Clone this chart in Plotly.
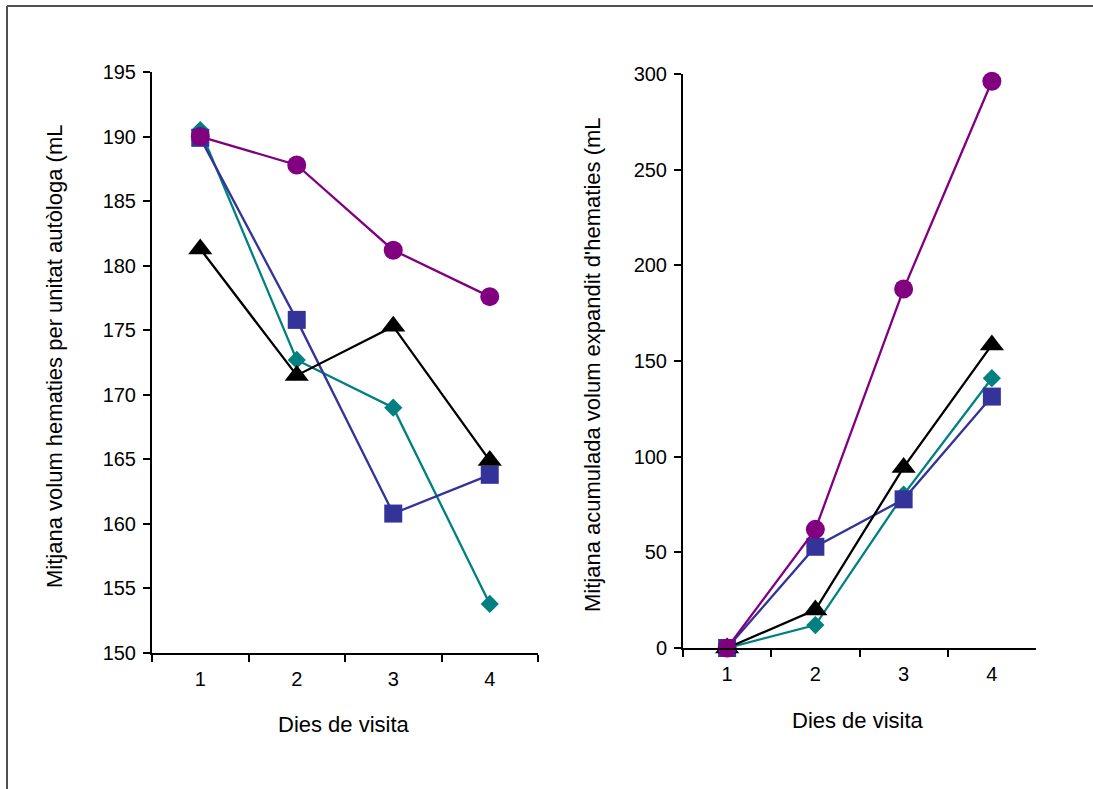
import plotly.graph_objects as go

# Visit days (categorical x)
dies = ["1", "2", "3", "4"]

# Left panel: mean red-cell volume per autologous unit (mL)
vol_cercle = [190.0, 187.8, 181.2, 177.6]
vol_quadrat = [189.9, 175.8, 160.8, 163.8]
vol_rombe = [190.5, 172.7, 169.0, 153.8]
vol_triangle = [181.3, 171.5, 175.3, 164.9]

# Right panel: cumulative mean expanded red-cell volume (mL)
acum_cercle = [0, 62.0, 187.6, 296.2]
acum_quadrat = [0, 52.9, 77.7, 131.4]
acum_rombe = [0, 12.0, 80.2, 141.0]
acum_triangle = [0, 19.9, 94.4, 158.4]

W, H = 1093, 789
FONT = "Liberation Sans, Arial, sans-serif"

# series style: (colour, marker symbol, marker size); drawn in this order
estils = {
    "rombe": ("#008080", "diamond", 14),
    "quadrat": ("#333399", "square", 18),
    "triangle": ("#000000", "triangle-up", 21),
    "cercle": ("#800080", "circle", 19),
}

esquerra = {"rombe": vol_rombe, "quadrat": vol_quadrat,
            "triangle": vol_triangle, "cercle": vol_cercle}
dreta = {"rombe": acum_rombe, "quadrat": acum_quadrat,
         "triangle": acum_triangle, "cercle": acum_cercle}

fig = go.Figure()

for nom, (color, simbol, mida) in estils.items():
    fig.add_trace(go.Scatter(
        x=dies, y=esquerra[nom], mode="lines+markers",
        line=dict(color=color, width=2.3),
        marker=dict(symbol=simbol, size=mida, color=color, line=dict(width=0)),
        xaxis="x", yaxis="y", showlegend=False, cliponaxis=False,
    ))
    fig.add_trace(go.Scatter(
        x=dies, y=dreta[nom], mode="lines+markers",
        line=dict(color=color, width=2.3),
        marker=dict(symbol=simbol, size=mida, color=color, line=dict(width=0)),
        xaxis="x2", yaxis="y2", showlegend=False, cliponaxis=False,
    ))


def px_x(v):
    return v / W


def px_y(v):
    return 1 - v / H


eix_x = dict(
    type="category", tickson="boundaries", range=[-0.5, 3.5],
    showline=True, linecolor="black", linewidth=2,
    ticks="outside", ticklen=7, tickwidth=2, tickcolor="black",
    ticklabelstandoff=7,
    showgrid=False, zeroline=False,
    tickfont=dict(family=FONT, size=20, color="black"),
)
eix_y = dict(
    showline=True, linecolor="black", linewidth=2,
    ticks="outside", ticklen=7, tickwidth=2, tickcolor="black",
    ticklabelstandoff=3,
    showgrid=False, zeroline=False,
    tickfont=dict(family=FONT, size=20, color="black"),
)

fig.update_layout(
    width=W, height=H,
    margin=dict(l=0, r=0, t=0, b=0, autoexpand=False),
    paper_bgcolor="white", plot_bgcolor="white",
    xaxis=dict(eix_x, domain=[px_x(152), px_x(538)], anchor="y"),
    yaxis=dict(eix_y, domain=[px_y(653), px_y(72)], anchor="x",
               range=[150, 195], tickvals=[150, 155, 160, 165, 170, 175, 180, 185, 190, 195]),
    xaxis2=dict(eix_x, domain=[px_x(683), px_x(1036)], anchor="y2"),
    yaxis2=dict(eix_y, domain=[px_y(648), px_y(74)], anchor="x2",
                range=[0, 300], tickvals=[0, 50, 100, 150, 200, 250, 300]),
)

titol = dict(family=FONT, size=22, color="black")
fig.add_annotation(text="Dies de visita", x=px_x(344), y=px_y(724), xref="paper", yref="paper",
                   showarrow=False, font=titol, xanchor="center", yanchor="middle")
fig.add_annotation(text="Dies de visita", x=px_x(858), y=px_y(720), xref="paper", yref="paper",
                   showarrow=False, font=titol, xanchor="center", yanchor="middle")
fig.add_annotation(text="Mitjana volum hematies per unitat autòloga (mL",
                   x=px_x(54), y=px_y(357), xref="paper", yref="paper", textangle=-90,
                   showarrow=False, font=titol, xanchor="center", yanchor="middle")
fig.add_annotation(text="Mitjana acumulada volum expandit d'hematies (mL",
                   x=px_x(593), y=px_y(365), xref="paper", yref="paper", textangle=-90,
                   showarrow=False, font=titol, xanchor="center", yanchor="middle")

# outer chart frame (top and left edges)
fig.add_shape(type="line", xref="paper", yref="paper",
              x0=px_x(7), y0=px_y(6), x1=1, y1=px_y(6),
              line=dict(color="#505050", width=2))
fig.add_shape(type="line", xref="paper", yref="paper",
              x0=px_x(7), y0=px_y(6), x1=px_x(7), y1=0,
              line=dict(color="#505050", width=2))

fig.write_html("out.html")
